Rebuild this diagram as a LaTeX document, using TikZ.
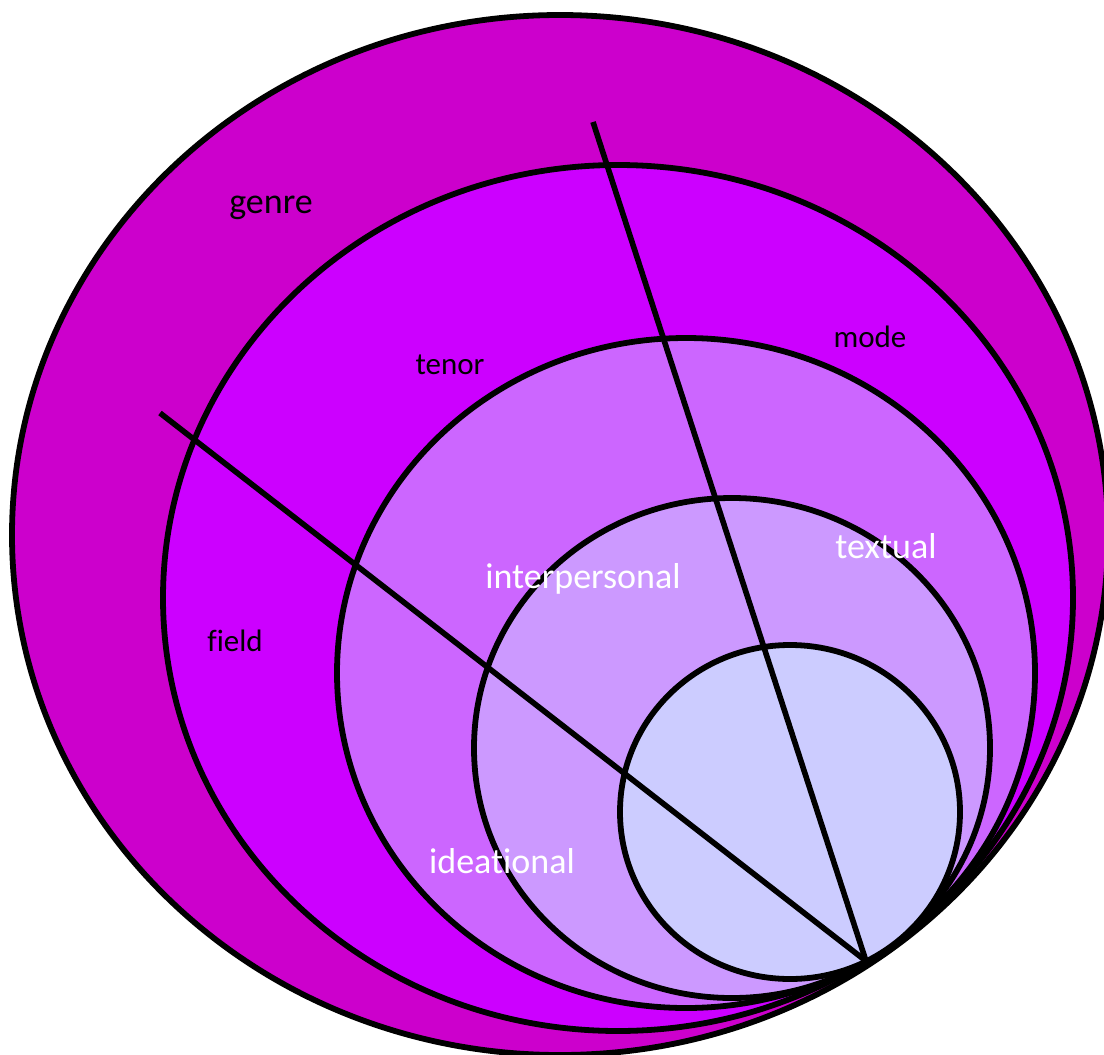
\documentclass[tikz,border=0pt]{standalone}
\usepackage{fontspec}
\setmainfont{Carlito}[Ligatures={NoCommon}]
\usepackage{tikz}
\usetikzlibrary{positioning}

\definecolor{genrefill}{HTML}{CC00CC}
\definecolor{regfill}{HTML}{CC00FF}
\definecolor{metafill}{HTML}{CC66FF}
\definecolor{lexfill}{HTML}{CC99FF}
\definecolor{corefill}{HTML}{CCCCFF}

\begin{document}
\begin{tikzpicture}[
    x=0.5pt, y=-0.5pt,
    ring/.style={draw=black, line width=2.9pt},
    divider/.style={draw=black, line width=2.8pt},
    darklabel/.style={text=black, anchor=base, inner sep=0pt, font=\fontsize{15.5}{18}\selectfont},
    lightlabel/.style={text=white, anchor=base, inner sep=0pt, font=\fontsize{18}{21}\selectfont}
]
    \useasboundingbox (0,0) rectangle (1104,1055);
    \clip (0,0) rectangle (1104,1055);

    % outer ring (genre)
    \fill [genrefill] (560,535) ellipse [x radius=548, y radius=520];

    % inner rings, kept inside the outer one
    \begin{scope}
        \clip (560,535) ellipse [x radius=548, y radius=520];
        \filldraw [ring, fill=regfill] (618,598) ellipse [x radius=455, y radius=433];
        \filldraw [ring, fill=metafill] (686,673) ellipse [x radius=349, y radius=335];
        \filldraw [ring, fill=lexfill] (732,748) ellipse [x radius=258, y radius=250];
        \filldraw [ring, fill=corefill] (790,812) ellipse [x radius=170, y radius=167];
    \end{scope}
    \draw [ring] (560,535) ellipse [x radius=548, y radius=520];

    % dividers
    \coordinate (tip) at (866,961);
    \coordinate (modeend) at (593,122);
    \coordinate (fieldend) at (160,413);
    \draw [divider] (modeend) -- (tip);
    \draw [divider] (fieldend) -- (tip);

    % labels
    \node (genre) [darklabel, font=\fontsize{18}{21}\selectfont] at (271,213) {genre};
    \node (tenor) [darklabel] at (450,374) {tenor};
    \node (mode) [darklabel] at (870,347) {mode};
    \node (field) [darklabel] at (235,651) {field};
    \node (inter) [lightlabel] at (583,588) {interpersonal};
    \node (textual) [lightlabel] at (886,558) {textual};
    \node (idea) [lightlabel] at (502,873) {ideational};
\end{tikzpicture}
\end{document}
